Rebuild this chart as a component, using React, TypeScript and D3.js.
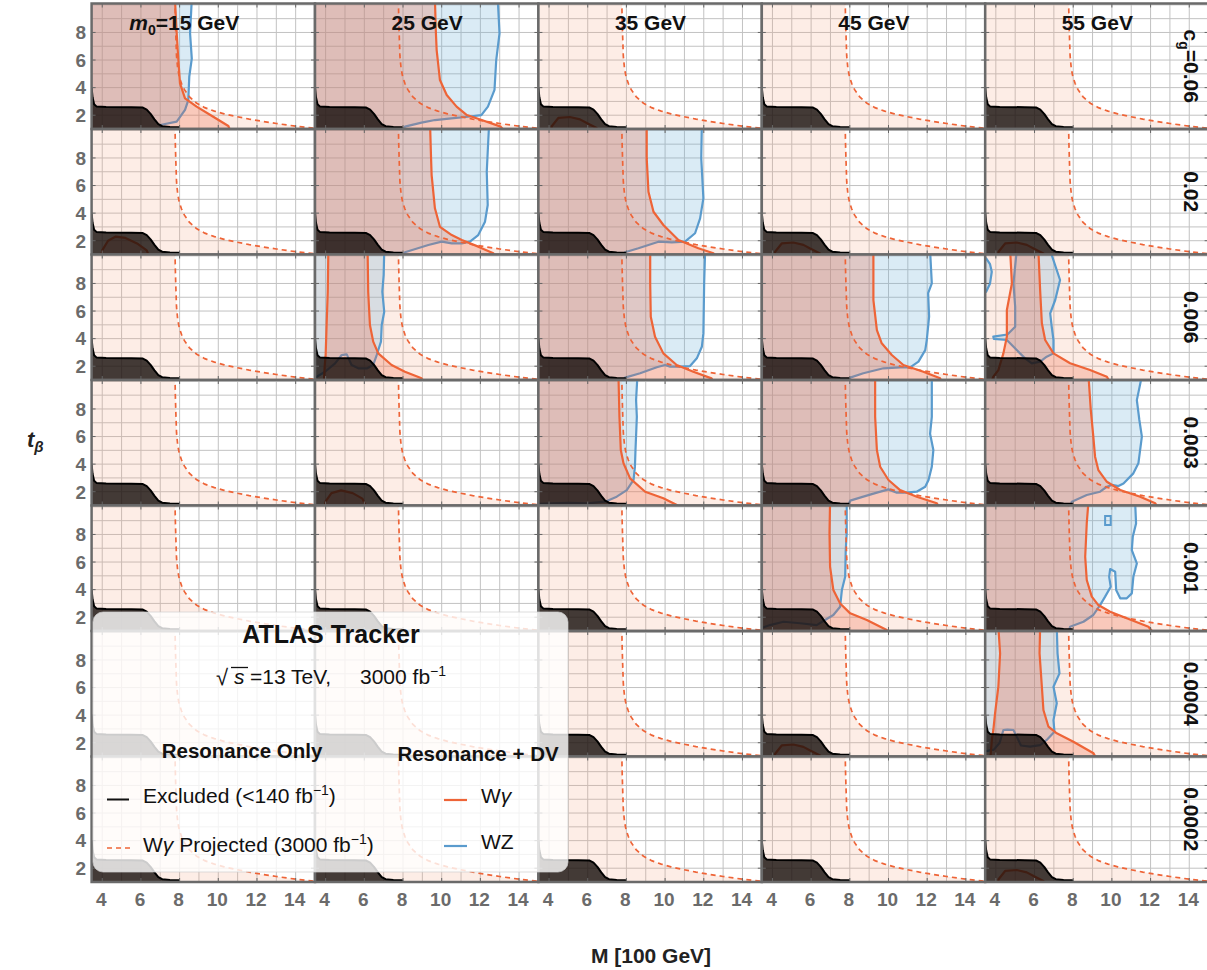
import React from 'react';
import * as d3 from 'd3';

type Pt = [number, number];

// ---- data (x = M [100 GeV], y = t_beta) ----
const masses = ['15', '25', '35', '45', '55'];
const couplings = ['0.06', '0.02', '0.006', '0.003', '0.001', '0.0004', '0.0002'];
const xTicks = [4, 6, 8, 10, 12, 14];
const yTicks = [2, 4, 6, 8];
const xGrid = [4, 5, 6, 7, 8, 9, 10, 11, 12, 13, 14];
const yGrid = [2, 3, 4, 5, 6, 7, 8, 9, 10];

// W gamma projected (3000 fb-1), resonance only
const projected: Pt[] = [[7.76, 10.4], [7.78, 9], [7.8, 8], [7.84, 6.3], [7.9, 5.4], [7.98, 4.8], [8.1, 4.3], [8.25, 3.85], [8.5, 3.35], [8.87, 2.88], [9.3, 2.55], [9.8, 2.3], [10.3, 2.1], [10.95, 1.9], [11.6, 1.72], [12.3, 1.55], [13.0, 1.4], [13.6, 1.28], [14.2, 1.17], [14.8, 1.08], [15.4, 1.0]];
// excluded (<140 fb-1)
const excluded: Pt[] = [[3.2, 4.0], [3.45, 4.0], [3.5, 3.3], [3.58, 2.8], [3.7, 2.64], [4.2, 2.6], [5.5, 2.58], [6.1, 2.55], [6.3, 2.4], [6.5, 2.1], [6.7, 1.7], [6.9, 1.35], [7.1, 1.2], [7.5, 1.15], [7.95, 1.12], [8.05, 0.6]];

// small W gamma islands below the excluded band
const islandSmall: Pt[] = [[4.1, 0.6], [4.14, 1.2], [4.48, 1.8], [5.08, 1.87], [5.6, 1.7], [5.95, 1.43], [6.46, 1.07], [6.55, 0.6]];
const islandLarge: Pt[] = [[3.9, 0.6], [4.0, 1.3], [4.3, 2.0], [4.7, 2.3], [5.2, 2.2], [5.8, 1.8], [6.3, 1.3], [6.5, 0.6]];
const islandMid: Pt[] = [[3.9, 0.6], [4.0, 1.3], [4.3, 1.9], [4.8, 2.1], [5.4, 1.9], [5.9, 1.5], [6.2, 0.6]];

// resonance + DV contours
const wgR1C1: Pt[] = [[7.76, 10.4], [7.85, 7.93], [7.93, 6.12], [8.02, 4.31], [8.28, 3.22], [8.88, 2.62], [9.74, 1.89], [10.52, 1.22], [10.7, 0.6]];
const wzR1C1: Pt[] = [[8.63, 10.4], [8.54, 7.95], [8.63, 6.1], [8.5, 4.8], [8.45, 3.1], [8.28, 2.38], [7.85, 1.53], [7.0, 1.29], [7.05, 0.6]];
const wgR1C2: Pt[] = [[9.65, 10.4], [9.7, 8], [9.74, 6.72], [9.91, 4.55], [10.26, 3.46], [10.77, 2.62], [11.3, 2.01], [12.07, 1.65], [13.05, 1.17], [13.4, 0.6]];
const wzR1C2: Pt[] = [[12.9, 10.4], [12.99, 7.93], [12.82, 6.0], [12.73, 3.83], [12.39, 2.62], [12.05, 2.01], [11.36, 1.89], [10.5, 1.77], [9.65, 1.65], [8.96, 1.46], [8.1, 1.17], [7.9, 0.6]];
const wgR2C2: Pt[] = [[9.4, 10.4], [9.45, 8], [9.48, 6.76], [9.65, 4.35], [9.91, 3.01], [10.52, 2.41], [11.04, 2.05], [11.89, 1.57], [12.67, 1.09], [12.8, 0.6]];
const wzR2C2: Pt[] = [[12.45, 10.4], [12.38, 8.45], [12.33, 7.0], [12.38, 4.59], [12.24, 3.38], [11.89, 2.41], [11.46, 1.93], [11.04, 1.81], [10.52, 1.81], [10.0, 1.93], [9.31, 1.69], [8.1, 1.16], [7.9, 0.6]];
const wgR2C3: Pt[] = [[9.05, 10.4], [9.05, 7.97], [9.14, 5.55], [9.4, 4.1], [9.91, 3.14], [10.69, 2.05], [11.72, 1.45], [12.5, 1.09], [12.7, 0.6]];
const wzR2C3: Pt[] = [[11.9, 10.4], [11.87, 7.97], [11.98, 5.07], [11.81, 3.62], [11.55, 2.54], [11.03, 1.93], [10.35, 1.88], [9.66, 1.93], [8.62, 1.45], [7.93, 1.16], [7.8, 0.6]];
const wgR3C2L: Pt[] = [[4.14, 10.4], [4.11, 7.4], [4.05, 4.99], [4.0, 2.81], [3.95, 2.0], [3.9, 0.6]];
const wgR3C2R: Pt[] = [[6.17, 10.4], [6.2, 7.4], [6.29, 4.99], [6.46, 3.78], [6.72, 2.93], [7.41, 2.09], [8.1, 1.6], [8.96, 1.12], [9.2, 0.6]];
const wzR3C2: Pt[] = [[7.03, 10.4], [7.0, 8.6], [6.93, 7.4], [7.03, 5.95], [6.9, 4.99], [6.86, 3.78], [6.64, 2.81], [6.46, 2.09], [6.15, 1.85], [5.69, 1.85], [5.34, 2.09], [5.09, 2.86], [4.83, 2.81], [4.49, 2.21], [3.97, 1.6], [3.54, 1.24], [3.2, 1.1]];
const wgR3C3: Pt[] = [[9.23, 10.4], [9.23, 8.0], [9.26, 5.59], [9.48, 4.14], [9.91, 2.93], [10.6, 2.09], [11.46, 1.6], [12.4, 1.12], [12.6, 0.6]];
const wzR3C3: Pt[] = [[12.07, 10.4], [12.02, 8.0], [11.98, 4.38], [11.9, 3.41], [11.64, 2.57], [11.29, 2.01], [10.78, 1.97], [10.26, 1.97], [10.0, 2.09], [9.57, 1.92], [8.71, 1.49], [7.93, 1.17], [7.8, 0.6]];
const wgR3C4: Pt[] = [[9.22, 10.4], [9.22, 6.8], [9.4, 4.62], [9.65, 3.66], [10.17, 2.81], [10.77, 2.09], [11.8, 1.6], [12.67, 1.12], [12.8, 0.6]];
const wzR3C4: Pt[] = [[12.15, 10.4], [12.24, 8.0], [12.05, 7.3], [12.1, 5.6], [11.98, 3.9], [11.9, 3.17], [11.55, 2.33], [11.12, 1.92], [10.6, 1.92], [9.74, 1.85], [8.7, 1.49], [8.02, 1.17], [7.9, 0.6]];
const wgR3C5L: Pt[] = [[4.74, 10.4], [4.83, 8.0], [4.57, 6.07], [4.57, 4.14], [4.39, 2.93], [4.13, 1.72], [3.87, 1.24], [3.7, 0.6]];
const wgR3C5R: Pt[] = [[6.2, 10.4], [6.29, 7.52], [6.38, 5.11], [6.55, 3.9], [6.98, 2.93], [7.84, 2.21], [8.87, 1.72], [9.74, 1.24], [10.0, 0.6]];
const wzR3C5L: Pt[] = [[5.08, 10.4], [4.91, 8.0], [5.0, 6.31], [5.0, 4.86], [4.6, 4.3], [3.87, 4.14], [3.9, 3.98], [4.57, 3.9], [5.08, 3.17], [5.51, 2.57], [5.86, 2.21]];
const wzR3C5R: Pt[] = [[6.81, 10.4], [7.32, 8.25], [7.07, 6.8], [6.81, 5.83], [6.89, 4.86], [6.98, 3.9], [6.98, 2.93], [6.63, 2.69], [6.29, 2.33], [5.86, 2.21]];
const wzR3C5Blob: Pt[] = [[3.2, 9.9], [3.5, 9.82], [3.7, 9.4], [3.79, 8.85], [3.7, 8.0], [3.5, 7.4], [3.2, 7.3]];
const wgR4C3: Pt[] = [[7.59, 10.4], [7.64, 7.43], [7.71, 5.02], [7.85, 4.06], [8.19, 2.97], [8.97, 2.0], [9.91, 1.52], [10.61, 1.04], [10.7, 0.6]];
const wzR4C3: Pt[] = [[8.57, 10.4], [8.5, 8.64], [8.54, 7.43], [8.47, 5.02], [8.44, 3.8], [8.37, 2.85], [8.02, 2.12], [7.5, 1.64], [6.9, 1.28], [6.0, 1.15], [5.0, 1.2], [4.2, 1.15], [3.2, 1.1]];
const wgR4C4: Pt[] = [[9.31, 10.4], [9.31, 7.43], [9.4, 5.02], [9.57, 3.81], [10.0, 2.85], [10.6, 2.12], [11.46, 1.64], [12.5, 1.16], [12.7, 0.6]];
const wzR4C4: Pt[] = [[12.24, 10.4], [12.24, 7.43], [12.15, 6.2], [12.32, 5.02], [12.24, 3.81], [12.07, 2.85], [11.9, 2.36], [11.46, 2.0], [10.95, 1.93], [10.43, 1.93], [10.0, 2.17], [9.4, 1.93], [8.7, 1.64], [8.02, 1.35], [7.8, 0.6]];
const wgR4C5: Pt[] = [[8.79, 10.4], [8.91, 7.92], [9.04, 5.99], [9.13, 4.54], [9.3, 3.57], [9.74, 2.72], [10.43, 2.12], [11.46, 1.64], [12.24, 1.16], [12.5, 0.6]];
const wzR4C5: Pt[] = [[11.55, 10.4], [11.29, 8.64], [11.42, 7.2], [11.55, 5.99], [11.37, 4.06], [11.11, 3.33], [10.6, 2.6], [10.34, 2.41], [10.0, 2.49], [9.74, 2.36], [9.39, 2.0], [8.7, 1.76], [7.93, 1.28], [7.8, 0.6]];
const wgR5C4: Pt[] = [[6.98, 10.4], [6.95, 8.08], [6.98, 5.66], [7.15, 3.97], [7.5, 3.0], [8.02, 2.28], [8.88, 1.8], [9.91, 1.07], [10.1, 0.6]];
const wzR5C4: Pt[] = [[7.84, 10.4], [7.84, 8.08], [7.79, 6.87], [7.76, 4.93], [7.59, 3.97], [7.5, 2.76], [7.15, 2.16], [6.72, 1.8], [6.29, 1.43], [5.43, 1.56], [4.57, 1.67], [3.88, 1.43], [3.2, 1.1]];
const wgR5C5: Pt[] = [[8.79, 10.4], [8.7, 8.8], [8.62, 6.38], [8.7, 4.7], [8.96, 3.49], [9.3, 2.88], [9.91, 2.4], [10.77, 1.92], [11.89, 1.31], [12.3, 0.6]];
const wzR5C5: Pt[] = [[11.2, 10.4], [11.25, 8.8], [11.08, 7.83], [11.03, 6.86], [11.29, 5.9], [11.11, 4.93], [11.03, 3.73], [10.77, 3.37], [10.43, 3.37], [10.22, 3.97], [10.17, 5.3], [9.91, 5.49], [9.86, 4.93], [9.94, 4.21], [9.65, 3.49], [9.39, 2.88], [9.04, 2.16], [8.53, 1.67], [7.84, 1.31], [7.7, 0.6]];
const wzR5C5Hole: Pt[] = [[9.65, 9.33], [9.94, 9.33], [9.94, 8.68], [9.65, 8.68]];
const wgR6C5L: Pt[] = [[4.13, 10.4], [4.22, 8.48], [4.13, 6.06], [3.96, 4.13], [3.87, 2.92], [3.8, 2.3], [3.7, 0.6]];
const wgR6C5R: Pt[] = [[6.29, 10.4], [6.26, 8.48], [6.38, 6.06], [6.46, 4.37], [6.72, 3.16], [7.15, 2.68], [8.01, 2.07], [9.05, 1.23], [9.3, 0.6]];
const wzR6C5: Pt[] = [[7.15, 10.4], [7.19, 8.48], [7.29, 7.03], [6.98, 6.06], [7.15, 4.86], [6.98, 3.64], [7.03, 2.8], [6.63, 2.2], [6.29, 1.83], [5.77, 1.71], [5.3, 1.8], [4.91, 2.92], [4.6, 2.95], [4.39, 2.92], [4.2, 2.0], [3.9, 1.5], [3.2, 1.3]];

const leftOf = (c: Pt[]): Pt[] => [[3.0, c[0][1]], ...c, [3.0, c[c.length - 1][1]]];
const band = (a: Pt[], b: Pt[]): Pt[] => [...a, ...b.slice().reverse()];

interface Panel { row: number; col: number; wz?: Pt[][]; wg?: Pt[][]; outline?: Pt[][] }

const panels: Panel[] = [
  { row: 0, col: 0, wz: [leftOf(wzR1C1)], wg: [leftOf(wgR1C1)] },
  { row: 0, col: 1, wz: [leftOf(wzR1C2)], wg: [leftOf(wgR1C2)] },
  { row: 0, col: 2, wg: [islandSmall] },
  { row: 1, col: 0, wg: [islandLarge] },
  { row: 1, col: 1, wz: [leftOf(wzR2C2)], wg: [leftOf(wgR2C2)] },
  { row: 1, col: 2, wz: [leftOf(wzR2C3)], wg: [leftOf(wgR2C3)] },
  { row: 1, col: 3, wg: [islandSmall] },
  { row: 1, col: 4, wg: [islandSmall] },
  { row: 2, col: 1, wz: [leftOf(wzR3C2)], wg: [band(wgR3C2L, wgR3C2R)] },
  { row: 2, col: 2, wz: [leftOf(wzR3C3)], wg: [leftOf(wgR3C3)] },
  { row: 2, col: 3, wz: [leftOf(wzR3C4)], wg: [leftOf(wgR3C4)] },
  { row: 2, col: 4, wz: [band(wzR3C5L, wzR3C5R), wzR3C5Blob], wg: [band(wgR3C5L, wgR3C5R)] },
  { row: 3, col: 1, wg: [islandMid] },
  { row: 3, col: 2, wz: [leftOf(wzR4C3)], wg: [leftOf(wgR4C3)] },
  { row: 3, col: 3, wz: [leftOf(wzR4C4)], wg: [leftOf(wgR4C4)] },
  { row: 3, col: 4, wz: [leftOf(wzR4C5)], wg: [leftOf(wgR4C5)] },
  { row: 4, col: 3, wz: [leftOf(wzR5C4)], wg: [leftOf(wgR5C4)] },
  { row: 4, col: 4, wz: [leftOf(wzR5C5)], wg: [leftOf(wgR5C5)], outline: [wzR5C5Hole] },
  { row: 5, col: 3, wg: [islandSmall] },
  { row: 5, col: 4, wz: [leftOf(wzR6C5)], wg: [band(wgR6C5L, wgR6C5R)] },
  { row: 6, col: 4, wg: [islandSmall] },
];

// ---- layout ----
const W = 1207;
const H = 970;
const left0 = 91.6;
const top0 = 3.5;
const colW = 223.4;
const rowH = 125.5;
const FONT = '"Liberation Sans", Arial, Helvetica, sans-serif';
const ORANGE = '#ee6437';
const BLUE = '#5a9bcd';
const AXIS_GRAY = '#6b6b6b';

const x = d3.scaleLinear().domain([3.45, 15]).range([0, colW]);
const y = d3.scaleLinear().domain([1, 10.1]).range([rowH, 0]);
const line = d3.line<Pt>().x(d => x(d[0])).y(d => y(d[1]));
const closed = (p: Pt[]) => (line(p) ?? '') + 'Z';

function Cell({ row, col }: { row: number; col: number }) {
  const p = panels.find(d => d.row === row && d.col === col);
  const id = `clip-${row}-${col}`;
  return (
    <g transform={`translate(${left0 + col * colW},${top0 + row * rowH})`}>
      <defs>
        <clipPath id={id}><rect width={colW} height={rowH} /></clipPath>
      </defs>
      <g clipPath={`url(#${id})`}>
        <rect width={colW} height={rowH} fill="#fff" />
        {xGrid.map(v => <line key={'gx' + v} x1={x(v)} x2={x(v)} y1={0} y2={rowH} stroke="#c2c2c2" strokeWidth={1} />)}
        {yGrid.map(v => <line key={'gy' + v} x1={0} x2={colW} y1={y(v)} y2={y(v)} stroke="#c2c2c2" strokeWidth={1} />)}
        <path d={closed(leftOf(projected))} fill="#f4a582" fillOpacity={0.2} />
        {(p?.wz ?? []).map((poly, i) => <path key={'wzf' + i} d={closed(poly)} fill="#6baed6" fillOpacity={0.25} />)}
        {(p?.wz ?? []).map((poly, i) => <path key={'wzs' + i} d={closed(poly)} fill="none" stroke={BLUE} strokeWidth={2.2} strokeLinejoin="round" />)}
        {(p?.outline ?? []).map((poly, i) => <path key={'ol' + i} d={closed(poly)} fill="none" stroke={BLUE} strokeWidth={2} />)}
        {(p?.wg ?? []).map((poly, i) => <path key={'wgf' + i} d={closed(poly)} fill="#f0603a" fillOpacity={0.25} />)}
        {(p?.wg ?? []).map((poly, i) => <path key={'wgs' + i} d={closed(poly)} fill="none" stroke={ORANGE} strokeWidth={2.2} strokeLinejoin="round" />)}
        <path d={line(projected) ?? ''} fill="none" stroke={ORANGE} strokeWidth={1.7} strokeDasharray="5 4" />
        <path d={closed(leftOf(excluded))} fill="#140c0a" fillOpacity={0.8} stroke="#000" strokeWidth={2} strokeLinejoin="round" />
        {xTicks.map(v => (
          <g key={'tx' + v}>
            <line x1={x(v)} x2={x(v)} y1={rowH} y2={rowH - 4} stroke="#666" />
            <line x1={x(v)} x2={x(v)} y1={0} y2={4} stroke="#666" />
          </g>
        ))}
        {yTicks.map(v => (
          <g key={'ty' + v}>
            <line x1={0} x2={4} y1={y(v)} y2={y(v)} stroke="#666" />
            <line x1={colW} x2={colW - 4} y1={y(v)} y2={y(v)} stroke="#666" />
          </g>
        ))}
      </g>
      <rect width={colW} height={rowH} fill="none" stroke="#6a6a6a" strokeWidth={2.5} />
    </g>
  );
}

function Sup({ children }: { children: React.ReactNode }) {
  return <tspan fontSize={14} dy={-8}>{children}</tspan>;
}

export default function App() {
  const rows = couplings.map((_, i) => i);
  const cols = masses.map((_, i) => i);
  return (
    <svg width={W} height={H} fontFamily={FONT} style={{ position: 'absolute', left: 0, top: 0 }}>
      <rect width={W} height={H} fill="#fff" />
      {rows.map(r => cols.map(c => <Cell key={r + '-' + c} row={r} col={c} />))}

      {/* column titles */}
      {masses.map((m, c) => {
        const cx = left0 + c * colW + colW / 2;
        return (
          <text key={'m' + m} x={cx + 36} y={30} textAnchor="end" fontSize={21} fontWeight="bold" fill="#111">
            {c === 0 && <><tspan fontStyle="italic">m</tspan><tspan fontSize={14} dy={5}>0</tspan><tspan dy={-5}>=</tspan></>}
            {`${m} GeV`}
          </text>
        );
      })}

      {/* row labels */}
      {couplings.map((g, r) => {
        const cy = top0 + r * rowH + rowH / 2;
        return (
          <text key={'g' + g} transform={`translate(1183.5,${cy}) rotate(90)`} textAnchor="middle" fontSize={21} fontWeight="bold" fill="#111">
            {r === 0 && <><tspan>c</tspan><tspan fontSize={14} dy={5}>g</tspan><tspan dy={-5}>=</tspan></>}
            {g}
          </text>
        );
      })}

      {/* tick labels */}
      {cols.map(c => xTicks.map(v => (
        <text key={`xl${c}-${v}`} x={left0 + c * colW + x(v) - 1} y={906} textAnchor="middle" fontSize={19} fontWeight="bold" fill={AXIS_GRAY}>{v}</text>
      )))}
      {rows.map(r => yTicks.map(v => (
        <text key={`yl${r}-${v}`} x={86} y={top0 + r * rowH + y(v)} dy="0.36em" textAnchor="end" fontSize={19} fontWeight="bold" fill={AXIS_GRAY}>{v}</text>
      )))}

      {/* axis titles */}
      <text x={651} y={963} textAnchor="middle" fontSize={21} fontWeight="bold" fill="#222">M [100 GeV]</text>
      <text x={27} y={447} fontSize={22} fontWeight="bold" fontStyle="italic" fill="#222">
        t<tspan fontSize={15} dy={5}>β</tspan>
      </text>

      {/* legend */}
      <g>
        <rect x={93} y={612} width={475} height={260} rx={10} fill="#fff" fillOpacity={0.8} stroke="#cfcfcf" strokeOpacity={0.7} />
        <text x={331} y={643} textAnchor="middle" fontSize={25} fontWeight="bold" fill="#111">ATLAS Tracker</text>
        <text x={216} y={685} fontSize={22} fill="#111">√</text>
        <line x1={231} x2={248} y1={667.5} y2={667.5} stroke="#111" strokeWidth={1.3} />
        <text x={234} y={684} fontSize={21} fontStyle="italic" fill="#111">s</text>
        <text x={250} y={684} fontSize={21} fill="#111">=13 TeV,</text>
        <text x={360} y={684} fontSize={21} fill="#111">3000 fb<Sup>−1</Sup></text>

        <text x={242} y={758} textAnchor="middle" fontSize={20.5} fontWeight="bold" fill="#111">Resonance Only</text>
        <text x={478} y={761} textAnchor="middle" fontSize={20.5} fontWeight="bold" fill="#111">Resonance + DV</text>

        <line x1={107} x2={129} y1={799.5} y2={799.5} stroke="#111" strokeWidth={2} />
        <text x={143} y={803} fontSize={21} fill="#111">Excluded (&lt;140 fb<Sup>−1</Sup><tspan dy={8}>)</tspan></text>
        <line x1={107} x2={131} y1={848} y2={848} stroke={ORANGE} strokeWidth={1.7} strokeDasharray="5 4" />
        <text x={143} y={852} fontSize={21} fill="#111">W<tspan fontStyle="italic">γ</tspan> Projected (3000 fb<Sup>−1</Sup><tspan dy={8}>)</tspan></text>

        <line x1={444} x2={467} y1={800} y2={800} stroke={ORANGE} strokeWidth={2.2} />
        <text x={481} y={803} fontSize={21} fill="#111">W<tspan fontStyle="italic">γ</tspan></text>
        <line x1={444} x2={467} y1={846} y2={846} stroke={BLUE} strokeWidth={2.2} />
        <text x={481} y={849} fontSize={21} fill="#111">WZ</text>
      </g>
    </svg>
  );
}
